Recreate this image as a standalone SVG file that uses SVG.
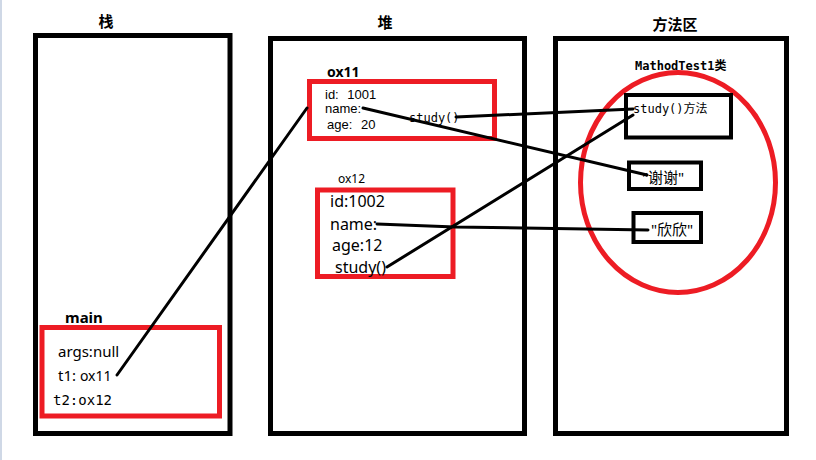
<svg xmlns="http://www.w3.org/2000/svg" width="816" height="460" viewBox="0 0 816 460">
<style>
.area{fill:none;stroke:#000;stroke-width:5}
.obj{fill:none;stroke:#ed1c24;stroke-width:5}
.box{fill:none;stroke:#000;stroke-width:4}
.t{font-family:"Noto Sans","Noto Sans CJK SC",sans-serif;fill:#000}
.s{font-family:"Liberation Sans","Noto Sans CJK SC",sans-serif;fill:#000}
.b{font-weight:bold}
.m{font-family:"DejaVu Sans Mono","Liberation Mono","Noto Sans CJK SC",monospace;fill:#000}
.c{fill:none;stroke:#000;stroke-width:3;stroke-linecap:round}
</style>
<rect width="816" height="460" fill="#fff"/>
<rect x="0" y="0" width="2" height="460" fill="#cfd8e6"/>
<g id="stack">
<rect class="area" x="35.5" y="35.5" width="194.5" height="398"/>
<text class="t b" x="106" y="27" font-size="15" text-anchor="middle">栈</text>
</g>
<g id="heap">
<rect class="area" x="270.5" y="38.5" width="254" height="395"/>
<text class="t b" x="385" y="28" font-size="15" text-anchor="middle">堆</text>
</g>
<g id="method-area">
<rect class="area" x="555.5" y="38.5" width="231" height="395"/>
<text class="t b" x="675" y="30" font-size="15" text-anchor="middle">方法区</text>
<text class="m b" x="635" y="70" font-size="12">MathodTest1类</text>
<ellipse cx="678" cy="182.5" rx="97.5" ry="110" class="obj"/>
</g>
<g id="main">
<text class="t b" x="65" y="323" font-size="15">main</text>
<rect class="obj" x="42" y="327.5" width="177.5" height="88.5"/>
<text class="t" x="58" y="357" font-size="15">args:null</text>
<text class="t" x="58" y="381" font-size="15">t1: <tspan font-size="14">ox11</tspan></text>
<text class="m" x="53" y="405" font-size="14">t2:ox12</text>
</g>
<g id="ox11">
<text class="t b" x="327" y="77" font-size="14">ox11</text>
<rect class="obj" x="309.5" y="81.5" width="185" height="57"/>
<text class="s" x="325" y="99" font-size="13">id: <tspan dx="5">1001</tspan></text>
<text class="s" x="325" y="112.5" font-size="13">name:</text>
<text class="s" x="327" y="129" font-size="13">age: <tspan dx="5">20</tspan></text>
<text class="m" x="409" y="122" font-size="12">study()</text>
</g>
<g id="ox12">
<text class="t" x="338" y="183" font-size="12">ox12</text>
<rect class="obj" x="317.5" y="190" width="135.5" height="86.5" stroke-width="4"/>
<text class="t" x="330" y="207" font-size="16">id:1002</text>
<text class="t" x="330" y="230" font-size="16">name:</text>
<text class="t" x="332" y="251" font-size="16">age:12</text>
<text class="t" x="335" y="273" font-size="16">study()</text>
</g>
<g id="study-method">
<rect class="box" x="626" y="95" width="105" height="42.5"/>
<text class="m" x="633" y="113" font-size="12">study()方法</text>
</g>
<g id="xiexie">
<rect class="box" x="629" y="162.5" width="72" height="26.5"/>
<text class="t" x="642" y="183" font-size="15">"谢谢"</text>
</g>
<g id="xinxin">
<rect class="box" x="633.5" y="213" width="67.5" height="29"/>
<text class="t" x="651" y="235" font-size="15">"欣欣"</text>
</g>
<g id="connectors">
<line class="c" x1="117" y1="375" x2="307" y2="108"/>
<line class="c" x1="363" y1="108" x2="647" y2="175"/>
<line class="c" x1="456" y1="117" x2="633" y2="109"/>
<line class="c" x1="387" y1="267" x2="633" y2="115"/>
<polyline class="c" points="377,224 455,227 648,230"/>
</g>
</svg>
